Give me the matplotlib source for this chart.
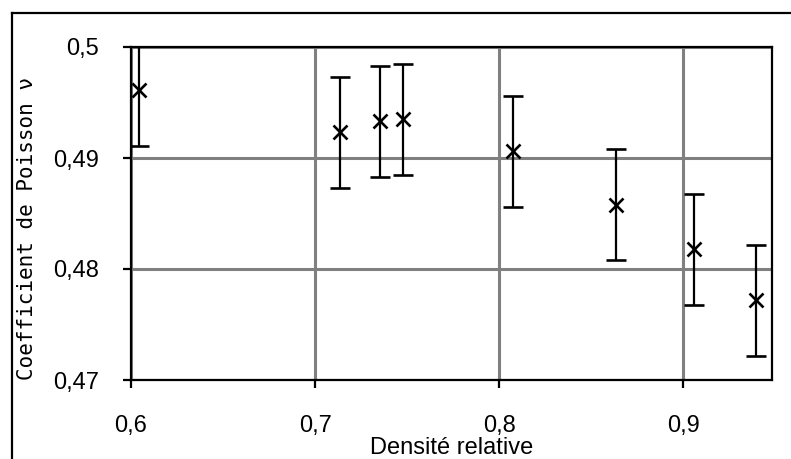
import matplotlib
matplotlib.use("Agg")
import matplotlib.pyplot as plt
from matplotlib.lines import Line2D
from matplotlib.ticker import FuncFormatter

densite = [0.6041, 0.7133, 0.7351, 0.7476, 0.8072, 0.8633, 0.9057, 0.9394]
poisson = [0.4961, 0.4923, 0.4933, 0.4935, 0.4906, 0.4858, 0.4818, 0.4772]
erreur = [0.0050, 0.0050, 0.0050, 0.0050, 0.0050, 0.0050, 0.0050, 0.0050]
xticks = [0.6, 0.7, 0.8, 0.9]
yticks = [0.47, 0.48, 0.49, 0.50]

W, H = 791, 459
fig = plt.figure(figsize=(W / 100, H / 100), dpi=100)
ax = fig.add_axes([131 / W, 1 - 380 / H, (772 - 131) / W, (380 - 47) / H])

ax.errorbar(densite, poisson, yerr=erreur, fmt='x', color='black',
            ecolor='black', elinewidth=1.6, capsize=7.5, capthick=1.6,
            markersize=9.5, markeredgewidth=1.9, zorder=3)

ax.set_xlim(0.6, 0.9481)
ax.set_ylim(0.47, 0.50)
ax.set_xticks(xticks)
ax.set_yticks(yticks)
fmt = FuncFormatter(lambda v, p: ('%g' % round(v, 3)).replace('.', ','))
ax.xaxis.set_major_formatter(fmt)
ax.yaxis.set_major_formatter(fmt)

ax.grid(True, color='#808080', linewidth=2.2, zorder=0)
ax.set_axisbelow(True)
for s in ax.spines.values():
    s.set_linewidth(1.6)
    s.set_color('black')
    s.set_zorder(2.5)

ax.tick_params(axis='both', direction='out', length=6, width=1.6,
               labelsize=17, colors='black')
ax.tick_params(axis='x', pad=19)
ax.tick_params(axis='y', pad=17)
for lab in ax.get_xticklabels() + ax.get_yticklabels():
    lab.set_family(['Liberation Sans', 'DejaVu Sans'])

ax.set_xlabel('Densité relative', fontsize=17, family=['Liberation Sans', 'DejaVu Sans'],
              labelpad=0.5)
ax.set_ylabel('Coefficient de Poisson ν', fontsize=15, family=['DejaVu Sans Mono', 'DejaVu Sans'],
              labelpad=0)
ax.yaxis.set_label_coords(-(131 - 37) / (772 - 131), (380 - 228) / (380 - 47))

# outer frame
fig.add_artist(Line2D([12 / W, 1.02], [1 - 13 / H, 1 - 13 / H], color='black', linewidth=1.6,
                      transform=fig.transFigure))
fig.add_artist(Line2D([12 / W, 12 / W], [1 - 13 / H, -0.02], color='black', linewidth=1.6,
                      transform=fig.transFigure))

fig.savefig('out.png', dpi=100)
